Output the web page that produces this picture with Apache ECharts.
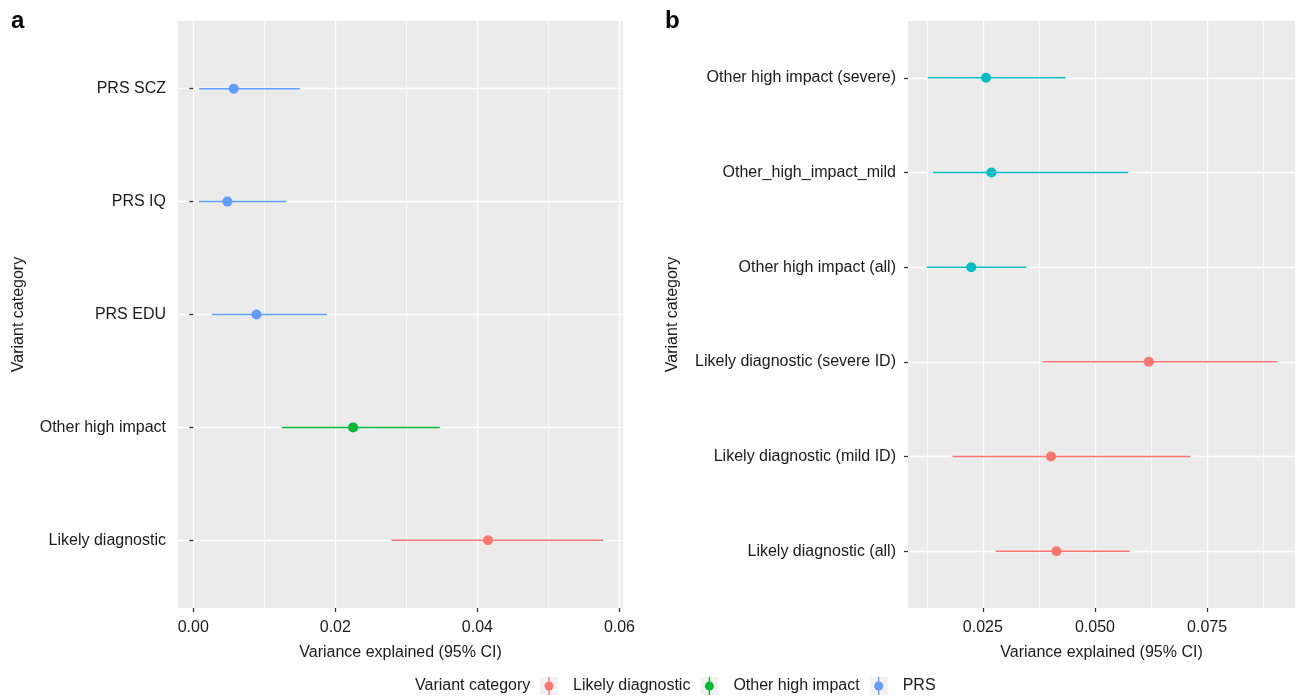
<!DOCTYPE html>
<html><head><meta charset="utf-8">
<script src="https://cdn.jsdelivr.net/npm/echarts@6/dist/echarts.min.js"></script>
<style>html,body{margin:0;padding:0;background:#fff}#c{width:1296px;height:697px}</style>
</head><body><div id="c"></div><script>
// ---- Panel a data (bottom to top) ----
const catsA = ["Likely diagnostic","Other high impact","PRS EDU","PRS IQ","PRS SCZ"];
const groupA = ["Likely diagnostic","Other high impact","PRS","PRS","PRS"];
const estA = [0.0415,0.0225,0.0089,0.0048,0.0057];
const lowA = [0.0279,0.0125,0.0026,0.0008,0.0008];
const highA = [0.0577,0.0347,0.0188,0.0131,0.0150];
const ticksA = [0,0.02,0.04,0.06];
const minorA = [0.01,0.03,0.05];
const rangeA = [-0.00215,0.0605];

// ---- Panel b data (bottom to top) ----
const catsB = ["Likely diagnostic (all)","Likely diagnostic (mild ID)","Likely diagnostic (severe ID)","Other high impact (all)","Other_high_impact_mild","Other high impact (severe)"];
const groupB = ["Likely diagnostic","Likely diagnostic","Likely diagnostic","Other high impact","Other high impact","Other high impact"];
const estB = [0.0414,0.0402,0.0620,0.0224,0.0269,0.0257];
const lowB = [0.0279,0.0182,0.0383,0.0125,0.0139,0.0127];
const highB = [0.0577,0.0713,0.0907,0.0347,0.0574,0.0434];
const ticksB = [0.025,0.050,0.075];
const minorB = [0.0125,0.0375,0.0625,0.0875];
const rangeB = [0.0083,0.0946];

const legendNames = ["Likely diagnostic","Other high impact","PRS"];
const colorsA = {"Likely diagnostic":"#F8766D","Other high impact":"#00BA38","PRS":"#619CFF"};
const colorsB = {"Likely diagnostic":"#F8766D","Other high impact":"#00BFC4"};

const FONT = '"Liberation Sans", Arial, Helvetica, sans-serif';
const TXT = '#1a1a1a';
const FS = 16;

function rowsFor(group, g, low, est, high){
  const out = [];
  group.forEach((gg,i)=>{ if(gg===g) out.push([low[i], est[i], high[i], i+1]); });
  return out;
}
function mkSeries(name, color, rows, xi, yi){
  return {
    type:'custom', name, xAxisIndex:xi, yAxisIndex:yi, data:rows,
    encode:{x:[0,1,2], y:3}, itemStyle:{color}, z:10,
    renderItem:function(params, api){
      const y = api.value(3);
      const p0 = api.coord([api.value(0), y]);
      const p1 = api.coord([api.value(1), y]);
      const p2 = api.coord([api.value(2), y]);
      return {type:'group', children:[
        {type:'line', shape:{x1:p0[0],y1:p0[1],x2:p2[0],y2:p2[1]}, style:{stroke:color, lineWidth:1.5}},
        {type:'circle', shape:{cx:p1[0],cy:p1[1],r:5}, style:{fill:color}}
      ]};
    }
  };
}
function idx(n){ const a=[]; for(let i=1;i<=n;i++) a.push(i); return a; }

function majorX(grid, range, ticks, dec){
  return {type:'value', gridIndex:grid, min:range[0], max:range[1],
    name:'Variance explained (95% CI)', nameLocation:'middle', nameGap:37,
    nameTextStyle:{fontSize:FS, color:TXT, fontFamily:FONT},
    axisLine:{show:false},
    axisTick:{show:true, length:4, customValues:ticks, lineStyle:{color:'#333', width:1.3}},
    axisLabel:{customValues:ticks, margin:12, fontSize:FS, color:TXT, fontFamily:FONT,
      formatter:v=>Number(v).toFixed(dec)},
    splitLine:{show:true, lineStyle:{color:'#fff', width:1.4}}};
}
function minorX(grid, range, minor){
  return {type:'value', gridIndex:grid, min:range[0], max:range[1],
    axisLine:{show:false}, axisTick:{show:false, customValues:minor},
    axisLabel:{show:false, customValues:minor},
    splitLine:{show:true, lineStyle:{color:'#fff', width:0.7}}};
}
function catY(grid, cats, gap){
  const v = idx(cats.length);
  return {type:'value', gridIndex:grid, min:0.4, max:cats.length+0.6,
    name:'Variant category', nameLocation:'middle', nameGap:gap,
    nameTextStyle:{fontSize:FS, color:TXT, fontFamily:FONT},
    axisLine:{show:false},
    axisTick:{show:true, length:4, customValues:v, lineStyle:{color:'#333', width:1.3}},
    axisLabel:{customValues:v, margin:12, fontSize:FS, color:TXT, fontFamily:FONT,
      formatter:val=>cats[Math.round(val)-1]},
    splitLine:{show:true, lineStyle:{color:'#fff', width:1.4}}};
}
function icon(color){
  const svg = "<svg xmlns='http://www.w3.org/2000/svg' width='28' height='18'><rect x='0' y='0' width='18' height='18' fill='#F2F2F2'/><line x1='9' y1='0' x2='9' y2='18' stroke='"+color+"' stroke-width='1.3'/><circle cx='9' cy='9' r='4.5' fill='"+color+"'/></svg>";
  return 'image://data:image/svg+xml;charset=utf-8,' + encodeURIComponent(svg);
}

const series = [];
["Likely diagnostic","Other high impact","PRS"].forEach(g=>{
  series.push(mkSeries(g, colorsA[g], rowsFor(groupA,g,lowA,estA,highA), 0, 0));
});
["Likely diagnostic","Other high impact"].forEach(g=>{
  series.push(mkSeries(g, colorsB[g], rowsFor(groupB,g,lowB,estB,highB), 2, 1));
});

const chart = echarts.init(document.getElementById('c'));
chart.setOption({
  animation:false,
  textStyle:{fontFamily:FONT},
  grid:[
    {left:178, top:21, width:445, height:587, show:true, backgroundColor:'#EBEBEB', borderWidth:0},
    {left:908, top:21, width:387, height:587, show:true, backgroundColor:'#EBEBEB', borderWidth:0}
  ],
  xAxis:[ majorX(0, rangeA, ticksA, 2), minorX(0, rangeA, minorA),
          majorX(1, rangeB, ticksB, 3), minorX(1, rangeB, minorB) ],
  yAxis:[ catY(0, catsA, 151), catY(1, catsB, 227) ],
  legend:{left:540, top:677, padding:0, itemWidth:28, itemHeight:18, itemGap:10,
    textStyle:{fontSize:FS, color:TXT, fontFamily:FONT},
    data: legendNames.map(n=>({name:n, icon:icon(colorsA[n])}))},
  graphic:[
    {type:'text', left:415, top:678, style:{text:'Variant category', fill:TXT, font:FS+'px '+FONT}},
    {type:'text', left:11, top:9, style:{text:'a', fill:'#000', font:'bold 24px '+FONT}},
    {type:'text', left:665, top:9, style:{text:'b', fill:'#000', font:'bold 24px '+FONT}}
  ],
  series
});
</script></body></html>
